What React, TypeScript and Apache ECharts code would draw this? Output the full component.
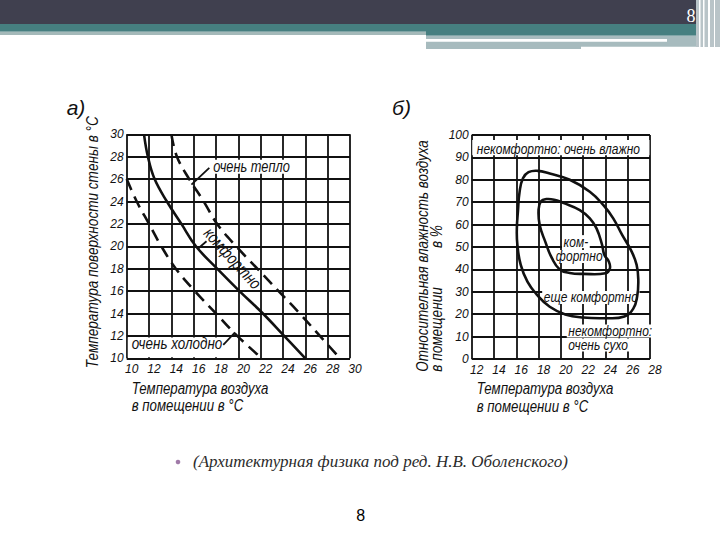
import React, { useEffect, useRef } from "react";
import * as echarts from "echarts";

const NARROW = "'Liberation Sans', Arial, sans-serif";
const SANS = "'Liberation Sans', Arial, sans-serif";
const SERIF = "'Liberation Serif', 'DejaVu Serif', serif";
const INK = "#111111";
const CONDENSE = 0.8;

// ---- Chart а): wall surface temperature vs room air temperature ----
const airTempMinA = 10;
const airTempMaxA = 30;
const wallTempMin = 10;
const wallTempMax = 30;
// [air temperature, wall surface temperature]
const comfortCurve: [number, number][] = [
  [11.55, 30], [11.9, 28], [12.5, 26], [13.6, 24], [14.9, 22], [16.2, 20],
  [18.1, 18], [20.1, 16], [22.2, 14], [24.1, 12], [26.0, 10],
];
const veryWarmCurve: [number, number][] = [
  [14.0, 30], [14.5, 28], [15.6, 26], [16.9, 24], [18.1, 22], [19.8, 20],
  [21.7, 18], [23.6, 16], [25.5, 14], [27.3, 12], [29.1, 10],
];
const veryColdCurve: [number, number][] = [
  [10.0, 26], [10.9, 24], [12.0, 22], [13.1, 20], [14.4, 18], [16.1, 16],
  [18.0, 14], [19.9, 12], [22.1, 10],
];

// ---- Chart б): relative humidity vs room air temperature ----
const airTempMinB = 12;
const airTempMaxB = 28;
const humidityMin = 0;
const humidityMax = 100;
// [air temperature, relative humidity %]
const stillComfortContour: [number, number][] = [
  [17.9, 84.0], [19.0, 82.8], [20.8, 80.0], [22.6, 74.7], [23.8, 68.8], [24.7, 62.8],
  [25.5, 55.4], [26.3, 48.5], [26.8, 42.0], [26.95, 35.0], [26.85, 28.0], [26.5, 22.5],
  [25.7, 19.0], [24.0, 18.2], [22.0, 18.5], [20.4, 19.9], [19.0, 23.3], [17.8, 29.0],
  [17.0, 34.5], [16.4, 42.0], [16.1, 50.9], [16.05, 58.0], [16.15, 66.0], [16.3, 74.7],
  [16.6, 80.7], [17.1, 83.4],
];
const comfortContour: [number, number][] = [
  [18.7, 71.4], [19.5, 71.0], [20.2, 69.7], [21.7, 66.5], [22.6, 62.8], [23.2, 58.3],
  [23.7, 51.0], [23.9, 46.5], [24.3, 43.5], [24.4, 40.5], [24.0, 38.3], [22.0, 38.0],
  [20.8, 38.4], [19.9, 40.0], [19.2, 45.0], [18.6, 52.4], [18.1, 59.8], [18.0, 66.5],
  [18.2, 70.3],
];

const labelsA = {
  panel: "а)",
  yTitle: "Температура поверхности стены в °C",
  xTitle1: "Температура воздуха",
  xTitle2: "в помещении в °C",
  warm: "очень тепло",
  comfort: "комфортно",
  cold: "очень холодно",
};
const labelsB = {
  panel: "б)",
  yTitle1: "Относительная влажность воздуха",
  yTitle2a: "в помещении",
  yTitle2b: "в %",
  xTitle1: "Температура воздуха",
  xTitle2: "в помещении в °C",
  humid: "некомфортно: очень влажно",
  comfort1: "ком-",
  comfort2: "фортно",
  still: "еще комфортно",
  dry1: "некомфортно:",
  dry2: "очень сухо",
};
const citation = "(Архитектурная физика под ред. Н.В. Оболенского)";
const pageNumber = "8";

const axisLabelX = {
  fontSize: 12,
  fontStyle: "italic",
  fontFamily: NARROW,
  color: INK,
  margin: 5,
  padding: [0, 0, 0, 10],
};
const axisLabelY = {
  fontSize: 12,
  fontStyle: "italic",
  fontFamily: NARROW,
  color: INK,
  margin: 3,
  padding: [0, 0, 8, 0],
};
const splitLine = { show: true, lineStyle: { color: INK, width: 1.8 } };

function makeAxis(gridIndex: number, min: number, max: number, interval: number, label: any) {
  return {
    type: "value",
    gridIndex,
    min,
    max,
    interval,
    axisLine: { show: false },
    axisTick: { show: false },
    splitLine,
    axisLabel: label,
  };
}

export default function App() {
  const ref = useRef<HTMLDivElement>(null);

  useEffect(() => {
    const chart = echarts.init(ref.current!, null, { renderer: "svg" });
    const curveStyle = { color: INK, width: 2.6 };
    chart.setOption({
      animation: false,
      backgroundColor: "#ffffff",
      grid: [
        { left: 126.7, top: 134.3, width: 223.3, height: 224 },
        { left: 471.7, top: 135, width: 178.3, height: 224 },
      ],
      xAxis: [
        makeAxis(0, airTempMinA, airTempMaxA, 2, axisLabelX),
        makeAxis(1, airTempMinB, airTempMaxB, 2, axisLabelX),
      ],
      yAxis: [
        makeAxis(0, wallTempMin, wallTempMax, 2, axisLabelY),
        makeAxis(1, humidityMin, humidityMax, 10, axisLabelY),
      ],
      series: [
        {
          type: "line", xAxisIndex: 0, yAxisIndex: 0, data: comfortCurve, smooth: 0.4,
          symbol: "none", lineStyle: curveStyle, z: 5,
        },
        {
          type: "line", xAxisIndex: 0, yAxisIndex: 0, data: veryWarmCurve, smooth: 0.4,
          symbol: "none", lineStyle: { ...curveStyle, type: [12, 7] }, z: 5,
        },
        {
          type: "line", xAxisIndex: 0, yAxisIndex: 0, data: veryColdCurve, smooth: 0.4,
          symbol: "none", lineStyle: { ...curveStyle, type: [12, 7] }, z: 5,
        },
        {
          type: "custom",
          xAxisIndex: 1,
          yAxisIndex: 1,
          z: 5,
          clip: false,
          data: [[20, 50]],
          renderItem: (_p: any, api: any) => ({
            type: "group",
            children: [stillComfortContour, comfortContour].map((c) => ({
              type: "polygon",
              shape: { points: c.map((pt) => api.coord(pt)), smooth: 0.45 },
              style: { fill: "none", stroke: INK, lineWidth: 2.6 },
            })),
          }),
        },
      ],
    });

    const P = (g: number, x: number, y: number) =>
      chart.convertToPixel({ gridIndex: g } as any, [x, y]) as number[];

    const txt = (
      x: number, y: number, text: string, size: number, opts: any = {}
    ) => ({
      type: "text",
      x,
      y,
      z: 4,
      rotation: opts.rotation || 0,
      scaleX: opts.scaleX ?? (opts.family ? 1 : CONDENSE),
      style: {
        text,
        fill: opts.fill || INK,
        fontSize: size,
        fontFamily: opts.family || NARROW,
        fontStyle: opts.italic === false ? "normal" : "italic",
        fontWeight: opts.weight || "normal",
        align: opts.align || "left",
        verticalAlign: "middle",
        lineHeight: size - 2,
        backgroundColor: opts.bg,
        padding: opts.bg ? [0, 2, 0, 2] : 0,
      },
    });
    const rect = (x: number, y: number, w: number, h: number, fill: string, z = 1) => ({
      type: "rect", z, shape: { x, y, width: w, height: h }, style: { fill },
    });
    const seg = (a: number[], b: number[]) => ({
      type: "line", z: 4,
      shape: { x1: a[0], y1: a[1], x2: b[0], y2: b[1] },
      style: { stroke: INK, lineWidth: 1.8 },
    });

    // chart а annotations
    const warmPos = P(0, 17.6, 27.1);
    const comfPos = P(0, 19.5, 18.95);
    const coldPos = P(0, 10.45, 11.35);
    const coldBoxA = P(0, 10.1, 11.85);
    const coldBoxB = P(0, 18.9, 10.1);
    // chart б annotations
    const humidBoxA = P(1, 12.05, 97.8);
    const humidBoxB = P(1, 27.95, 91);
    const humidPos = P(1, 19.78, 93.6);
    const kom1 = P(1, 21.35, 52.4);
    const kom2 = P(1, 21.65, 45.8);
    const stillPos = P(1, 22.69, 27.5);
    const dry1 = P(1, 20.53, 12.5);
    const dry2 = P(1, 20.53, 6.25);

    const graphic: any[] = [
      // slide decoration
      rect(0, 0, 720, 24, "#40404f", 0),
      rect(0, 24, 426, 7.7, "#467f80", 0),
      rect(0, 31.7, 426, 3.3, "#a4b9b9", 0),
      rect(426, 24, 294, 11.7, "#467f80", 0),
      rect(426, 35.7, 155, 13.3, "#a7bbbe", 0),
      rect(581, 35.7, 119, 11, "#a7bbbe", 0),
      rect(426, 39, 241, 2.7, "#ffffff", 0),
      rect(696, 0, 24, 47, "#b9c4c8", 0),
      rect(699, 0, 1.5, 47, "#ffffff", 0),
      rect(703, 0, 1.5, 47, "#ffffff", 0),
      rect(708, 0, 2, 47, "#ffffff", 0),
      rect(714, 0, 1, 47, "#ffffff", 0),
      txt(691, 16, pageNumber, 18, { family: SERIF, italic: false, fill: "#ffffff", align: "center" }),

      // panel letters
      txt(76, 107, labelsA.panel, 21, { family: SANS, align: "center" }),
      txt(401.5, 107, labelsB.panel, 21, { family: SANS, align: "center" }),

      // axis titles а
      txt(91.7, 368.3, labelsA.yTitle, 17, { rotation: Math.PI / 2 }),
      txt(131.7, 388.3, labelsA.xTitle1, 17, { scaleX: 0.78 }),
      txt(131.7, 404.6, labelsA.xTitle2, 17, { scaleX: 0.78 }),
      // axis titles б
      txt(421.7, 371.7, labelsB.yTitle1, 17, { rotation: Math.PI / 2, scaleX: 0.79 }),
      txt(435.5, 371.7, labelsB.yTitle2a, 17, { rotation: Math.PI / 2 }),
      txt(435.5, 248, labelsB.yTitle2b, 17, { rotation: Math.PI / 2 }),
      txt(476.7, 388.3, labelsB.xTitle1, 17, { scaleX: 0.78 }),
      txt(476.7, 406.3, labelsB.xTitle2, 17, { scaleX: 0.78 }),

      // chart а annotations
      txt(warmPos[0], warmPos[1], labelsA.warm, 16, { bg: "#ffffff" }),
      seg(P(0, 17.4, 27.0), P(0, 15.8, 25.5)),
      txt(comfPos[0], comfPos[1], labelsA.comfort, 17, { align: "center", rotation: -47.6 * Math.PI / 180 }),
      seg(P(0, 16.4, 19.8), P(0, 17.15, 20.45)),
      rect(coldBoxA[0], coldBoxA[1], coldBoxB[0] - coldBoxA[0], coldBoxB[1] - coldBoxA[1], "#ffffff", 2),
      txt(coldPos[0], coldPos[1], labelsA.cold, 16, { scaleX: 0.84 }),
      seg(P(0, 18.65, 11.19), P(0, 19.7, 12.32)),

      // chart б annotations
      rect(humidBoxA[0], humidBoxA[1], humidBoxB[0] - humidBoxA[0], humidBoxB[1] - humidBoxA[1], "#ffffff", 2),
      txt(humidPos[0], humidPos[1], labelsB.humid, 15, { align: "center" }),
      txt(kom1[0], kom1[1], labelsB.comfort1, 15, { align: "center", bg: "#ffffff" }),
      txt(kom2[0], kom2[1], labelsB.comfort2, 15, { align: "center", bg: "#ffffff" }),
      txt(stillPos[0], stillPos[1], labelsB.still, 15, { align: "center", bg: "#ffffff" }),
      txt(dry1[0], dry1[1], labelsB.dry1, 15, { bg: "#ffffff" }),
      txt(dry2[0], dry2[1], labelsB.dry2, 15, { bg: "#ffffff" }),

      // citation and footer
      { type: "circle", z: 4, shape: { cx: 178, cy: 462, r: 2.3 }, style: { fill: "#a07aa8" } },
      txt(193, 461.7, citation, 17, { family: SERIF, fill: "#2b2b2b" }),
      txt(360.7, 515, pageNumber, 16, { family: SANS, italic: false, fill: "#000000", align: "center" }),
    ];

    chart.setOption({ graphic });

    return () => chart.dispose();
  }, []);

  return (
    <div
      ref={ref}
      style={{ position: "absolute", left: 0, top: 0, width: 720, height: 540, background: "#fff" }}
    />
  );
}
